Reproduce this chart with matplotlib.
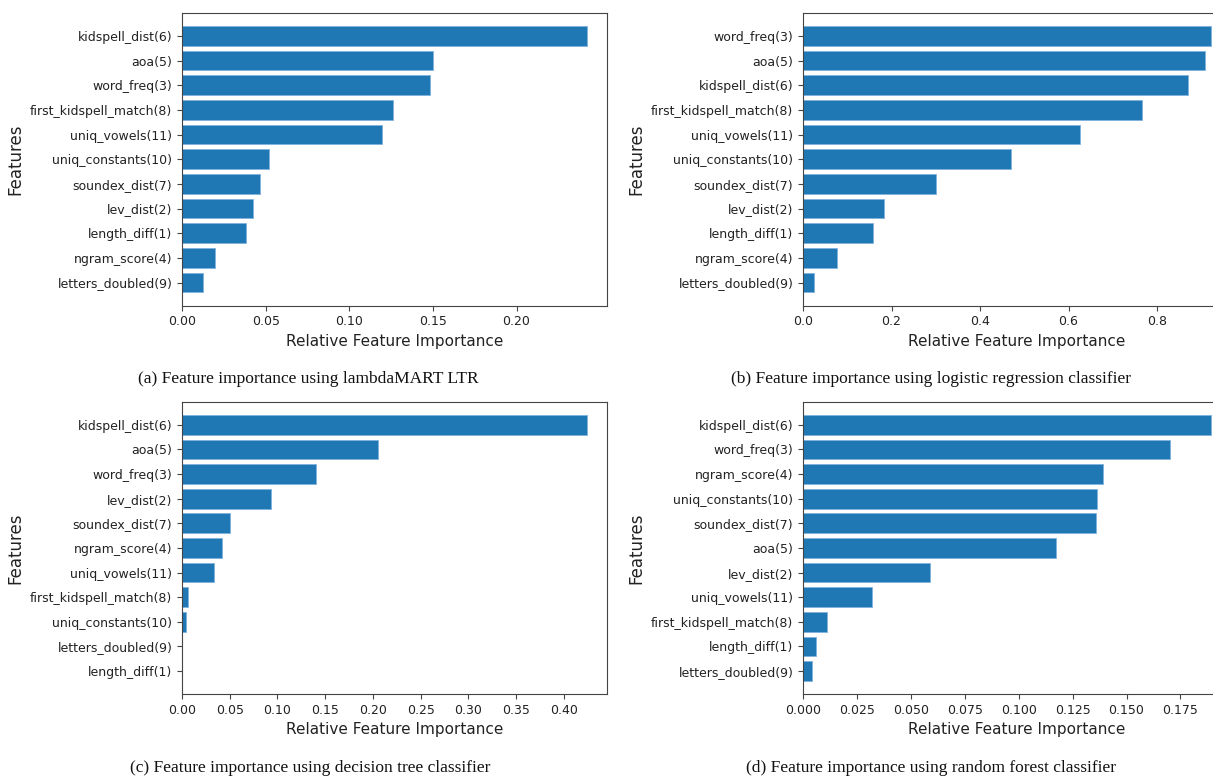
import matplotlib.pyplot as plt
import numpy as np

plt.rcParams['font.family'] = 'DejaVu Sans'
plt.rcParams['axes.edgecolor'] = '#444444'
plt.rcParams['xtick.color'] = '#444444'
plt.rcParams['ytick.color'] = '#444444'
plt.rcParams['xtick.labelcolor'] = '#222222'
plt.rcParams['ytick.labelcolor'] = '#222222'

# (a) lambdaMART LTR
lambdamart_features = ['kidspell_dist(6)', 'aoa(5)', 'word_freq(3)', 'first_kidspell_match(8)',
                       'uniq_vowels(11)', 'uniq_constants(10)', 'soundex_dist(7)', 'lev_dist(2)',
                       'length_diff(1)', 'ngram_score(4)', 'letters_doubled(9)']
lambdamart_importance = [0.242, 0.150, 0.148, 0.126, 0.1196, 0.0523, 0.0467, 0.0427,
                         0.0382, 0.0199, 0.0127]
lambdamart_ticks = [0.0, 0.05, 0.10, 0.15, 0.20]

# (b) logistic regression
logreg_features = ['word_freq(3)', 'aoa(5)', 'kidspell_dist(6)', 'first_kidspell_match(8)',
                   'uniq_vowels(11)', 'uniq_constants(10)', 'soundex_dist(7)', 'lev_dist(2)',
                   'length_diff(1)', 'ngram_score(4)', 'letters_doubled(9)']
logreg_importance = [0.921, 0.909, 0.869, 0.765, 0.626, 0.470, 0.300, 0.184, 0.159, 0.077, 0.025]

# (c) decision tree
dtree_features = ['kidspell_dist(6)', 'aoa(5)', 'word_freq(3)', 'lev_dist(2)', 'soundex_dist(7)',
                  'ngram_score(4)', 'uniq_vowels(11)', 'first_kidspell_match(8)',
                  'uniq_constants(10)', 'letters_doubled(9)', 'length_diff(1)']
dtree_importance = [0.424, 0.205, 0.140, 0.0933, 0.0502, 0.0419, 0.0337, 0.0066, 0.0041, 0.0, 0.0]

# (d) random forest
rforest_features = ['kidspell_dist(6)', 'word_freq(3)', 'ngram_score(4)', 'uniq_constants(10)',
                    'soundex_dist(7)', 'aoa(5)', 'lev_dist(2)', 'uniq_vowels(11)',
                    'first_kidspell_match(8)', 'length_diff(1)', 'letters_doubled(9)']
rforest_importance = [0.189, 0.1703, 0.1393, 0.1362, 0.1357, 0.1173, 0.0588, 0.0319,
                      0.0109, 0.0058, 0.0044]

captions = ['(a) Feature importance using lambdaMART LTR',
            '(b) Feature importance using logistic regression classifier',
            '(c) Feature importance using decision tree classifier',
            '(d) Feature importance using random forest classifier']

W, H = 1213, 776
fig = plt.figure(figsize=(W / 100, H / 100), dpi=100)

# axes boxes in pixels: left, top, width, height
boxes = [(182, 12.7, 425, 293), (803, 12.7, 428, 293),
         (182, 401.7, 425, 292.5), (803, 401.7, 428, 292.5)]
panels = [(lambdamart_features, lambdamart_importance, lambdamart_ticks),
          (logreg_features, logreg_importance, None),
          (dtree_features, dtree_importance, None),
          (rforest_features, rforest_importance, None)]
caption_pos = [(308, 379), (931, 379), (310, 768), (931, 768)]

for (l, t, w, h), (feats, vals, ticks), cap, (cx, cy) in zip(boxes, panels, captions, caption_pos):
    ax = fig.add_axes([l / W, 1 - (t + h) / H, w / W, h / H])
    pos = np.arange(len(feats))[::-1]
    ax.barh(pos, vals, color='#1f77b4', edgecolor='#7fb2de', linewidth=0.6)
    ax.set_yticks(pos)
    ax.set_yticklabels(feats, fontsize=9)
    if ticks is not None:
        ax.set_xticks(ticks)
    ax.tick_params(axis='x', labelsize=9)
    ax.set_xlabel('Relative Feature Importance', fontsize=11, color='#222222')
    ax.set_ylabel('Features', fontsize=12, color='#222222')
    fig.text(cx / W, 1 - cy / H, cap, family='Liberation Serif', fontsize=12.5,
             ha='center', va='center', color='#111111')

fig.savefig('out.png', dpi=100)
